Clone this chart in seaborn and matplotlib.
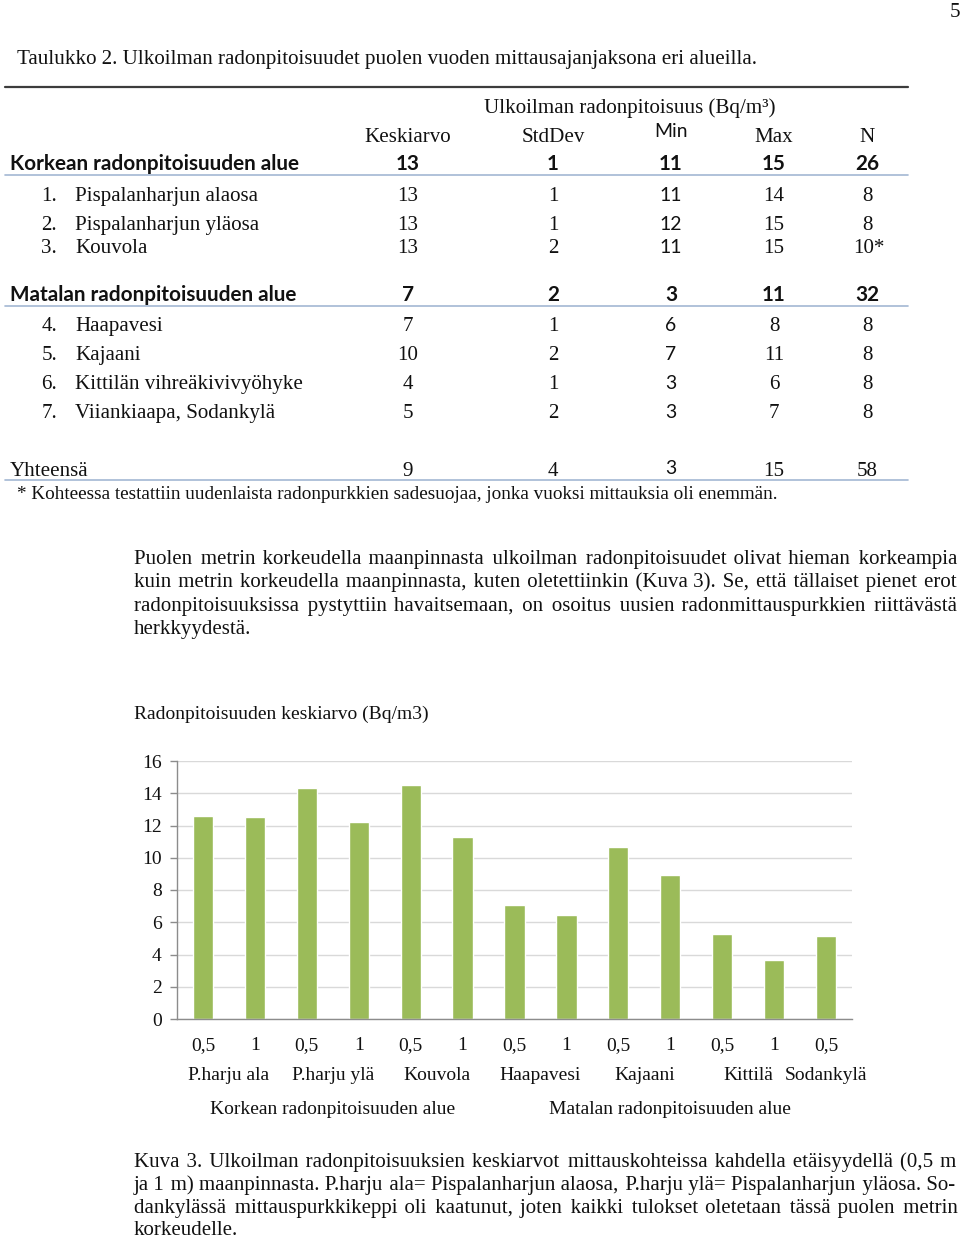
import matplotlib
matplotlib.use('Agg')
import matplotlib.pyplot as plt
import matplotlib.transforms as mtransforms
from matplotlib.lines import Line2D
import seaborn as sns
import pandas as pd

# --- table data ---
col_names = ['Keskiarvo', 'StdDev', 'Min', 'Max', 'N']
group_rows = ['Korkean radonpitoisuuden alue', 'Matalan radonpitoisuuden alue']
group_vals = [['13', '1', '11', '15', '26'], ['7', '2', '3', '11', '32']]
table_sites = ['Pispalanharjun alaosa', 'Pispalanharjun yläosa', 'Kouvola',
               'Haapavesi', 'Kajaani', 'Kittilän vihreäkivivyöhyke',
               'Viiankiaapa, Sodankylä']
site_mean = ['13', '13', '13', '7', '10', '4', '5']
site_sd = ['1', '1', '2', '1', '2', '1', '2']
site_min = ['11', '12', '11', '6', '7', '3', '3']
site_max = ['14', '15', '15', '8', '11', '6', '7']
site_n = ['8', '8', '10*', '8', '8', '8', '8']
total_vals = ['9', '4', '3', '15', '58']

# --- chart data ---
sites = ['P.harju ala', 'P.harju ala', 'P.harju ylä', 'P.harju ylä', 'Kouvola', 'Kouvola',
         'Haapavesi', 'Haapavesi', 'Kajaani', 'Kajaani', 'Kittilä', 'Kittilä', 'Sodankylä']
heights = ['0,5', '1', '0,5', '1', '0,5', '1', '0,5', '1', '0,5', '1', '0,5', '1', '0,5']
areas = ['Korkean radonpitoisuuden alue'] * 6 + ['Matalan radonpitoisuuden alue'] * 7
values = [12.6, 12.55, 14.3, 12.2, 14.5, 11.3, 7.05, 6.45, 10.65, 8.9, 5.3, 3.65, 5.15]

title = 'Taulukko 2. Ulkoilman radonpitoisuudet puolen vuoden mittausajanjaksona eri alueilla.'
footnote = '* Kohteessa testattiin uudenlaista radonpurkkien sadesuojaa, jonka vuoksi mittauksia oli enemmän.'
paragraph = [
    'Puolen metrin korkeudella maanpinnasta ulkoilman radonpitoisuudet olivat hieman korkeampia',
    'kuin metrin korkeudella maanpinnasta, kuten oletettiinkin (Kuva 3). Se, että tällaiset pienet erot',
    'radonpitoisuuksissa pystyttiin havaitsemaan, on osoitus uusien radonmittauspurkkien riittävästä',
    'herkkyydestä.',
]
caption = [
    'Kuva 3. Ulkoilman radonpitoisuuksien keskiarvot mittauskohteissa kahdella etäisyydellä (0,5 m',
    'ja 1 m) maanpinnasta. P.harju ala= Pispalanharjun alaosa, P.harju ylä= Pispalanharjun yläosa. So-',
    'dankylässä mittauspurkkikeppi oli kaatunut, joten kaikki tulokset oletetaan tässä puolen metrin',
    'korkeudelle.',
]

W, H = 960, 1239
SERIF = 'Liberation Serif'
SANS = 'Lato'
INK = '#111111'
HAIR = '\u200a'

sns.set_theme(style='white')
plt.rcParams['font.family'] = [SERIF, 'DejaVu Serif']

fig = plt.figure(figsize=(W / 100, H / 100), dpi=100)
renderer = fig.canvas.get_renderer()


def put(x, y, s, size, ha='left', **kw):
    # y is the visual middle of the text line in pixels from the top
    base = y + 0.34 * size * 100 / 72
    return fig.text(x / W, 1 - base / H, s, fontsize=size, ha=ha, va='baseline', color=INK, **kw)


def width_of(s, size, **kw):
    t = fig.text(0, 0, s, fontsize=size, **kw)
    w = t.get_window_extent(renderer).width
    t.remove()
    return w


def size_for(s, width, **kw):
    return 10 * width / width_of(s, 10, **kw)


def justify(x0, x1, y, line, size, last=False):
    # one text per line; gaps widened with hair spaces so every word shares the baseline
    if last:
        return put(x0, y, line, size)
    words = line.split(' ')
    hair = width_of('a' + HAIR + 'a', size) - width_of('aa', size)
    extra = (x1 - x0) - width_of(line, size)
    n_total = max(0, int(round(extra / hair)))
    gaps = len(words) - 1
    out = words[0]
    done = 0
    for g in range(1, gaps + 1):
        k = int(round(n_total * g / gaps)) - done
        done += k
        out += ' ' + HAIR * k + words[g]
    return put(x0, y, out, size)


def hline(x0, x1, y, color, lw):
    fig.add_artist(Line2D([x0 / W, x1 / W], [1 - y / H, 1 - y / H], color=color, lw=lw,
                          transform=fig.transFigure))


# ---------- table ----------
tsize = size_for(title, 740)
bsize = size_for(group_rows[0], 291, family=SANS, weight='bold')
put(950, 10, '5', tsize)
put(17, 57, title, tsize)
hline(5, 908, 87, '#3c3c3c', 1.6)

col_x = [408, 553, 671, 774, 867]
put(630, 106, 'Ulkoilman radonpitoisuus (Bq/m³)', tsize, ha='center')
for name, cx in zip(col_names, col_x):
    if name == 'Min':
        put(cx, 130, name, tsize * 0.92, ha='center', family=SANS)
    else:
        put(cx, 135, name, tsize, ha='center')

group_y = [163, 294]
site_y = [194, 223, 246, 324, 353, 382, 411]
for gname, gv, gy in zip(group_rows, group_vals, group_y):
    put(10, gy, gname, bsize, family=SANS, weight='bold')
    for v, cx in zip(gv, col_x):
        put(cx, gy, v, bsize, ha='center', family=SANS, weight='bold')
    hline(5, 908, gy + 12, '#a3b8d3', 1.2)

for i, (name, sy) in enumerate(zip(table_sites, site_y)):
    put(57, sy, f'{i + 1}.', tsize, ha='right')
    put(75, sy, name, tsize)
    row = [site_mean[i], site_sd[i], site_min[i], site_max[i], site_n[i]]
    for j, (v, cx) in enumerate(zip(row, col_x)):
        if j == 2:
            put(cx, sy, v, tsize * 0.92, ha='center', family=SANS)
        elif v.endswith('*'):
            put(cx - 14, sy, v, tsize, ha='left')
        else:
            put(cx, sy, v, tsize, ha='center')

put(10, 469, 'Yhteensä', tsize)
for j, (v, cx) in enumerate(zip(total_vals, col_x)):
    if j == 2:
        put(cx, 467, v, tsize * 0.92, ha='center', family=SANS)
    else:
        put(cx, 469, v, tsize, ha='center')
hline(5, 908, 480, '#a3b8d3', 1.2)
put(17, 492, footnote, size_for(footnote, 763))

# ---------- body text ----------
psize = min(size_for(line, 818) for line in paragraph[:-1] + caption[:-1])
for k, (line, ly) in enumerate(zip(paragraph, [557, 580, 604, 627])):
    justify(134, 957, ly, line, psize, last=(k == len(paragraph) - 1))
for k, (line, ly) in enumerate(zip(caption, [1160, 1183, 1206, 1228])):
    justify(134, 957, ly, line, psize, last=(k == len(caption) - 1))

# ---------- chart ----------
csize = size_for('Radonpitoisuuden keskiarvo (Bq/m3)', 293)
put(134, 712, 'Radonpitoisuuden keskiarvo (Bq/m3)', csize)

df = pd.DataFrame({'site': sites, 'height': heights, 'area': areas, 'value': values})
df['key'] = [f'{s} {h} {i}' for i, (s, h) in enumerate(zip(sites, heights))]

ax = fig.add_axes([177 / W, 1 - 1019 / H, 675 / W, 258 / H])
sns.barplot(data=df, x='key', y='value', color='#9BBB59', saturation=1, width=0.39, ax=ax)
ax.set_xlim(-0.5, len(df) - 0.5)
ax.set_ylim(0, 16)
ax.set_yticks(range(0, 17, 2))
ax.set_xticks(range(len(df)))
ax.set_xticklabels(df['height'])
ax.set_xlabel('')
ax.set_ylabel('')
ax.yaxis.grid(True, color='#d9d9d9', lw=1)
ax.set_axisbelow(True)
for side in ['top', 'right']:
    ax.spines[side].set_visible(False)
for side in ['left', 'bottom']:
    ax.spines[side].set_color('#8c8c8c')
    ax.spines[side].set_linewidth(1)
ax.tick_params(axis='y', left=True, length=5, width=1, color='#8c8c8c', pad=6,
               labelsize=csize, labelcolor=INK)
ax.tick_params(axis='x', length=0, pad=13, labelsize=csize, labelcolor=INK)

trans = mtransforms.blended_transform_factory(ax.transData, fig.transFigure)
pos = df.reset_index()
for name, grp in pos.groupby('site', sort=False):
    ax.text(grp['index'].mean(), 1 - 1076 / H, name, transform=trans, ha='center',
            va='center', fontsize=csize, color=INK)
for name, grp in pos.groupby('area', sort=False):
    ax.text(grp['index'].mean(), 1 - 1109 / H, name, transform=trans, ha='center',
            va='center', fontsize=csize, color=INK)

fig.savefig('out.png', dpi=100)
